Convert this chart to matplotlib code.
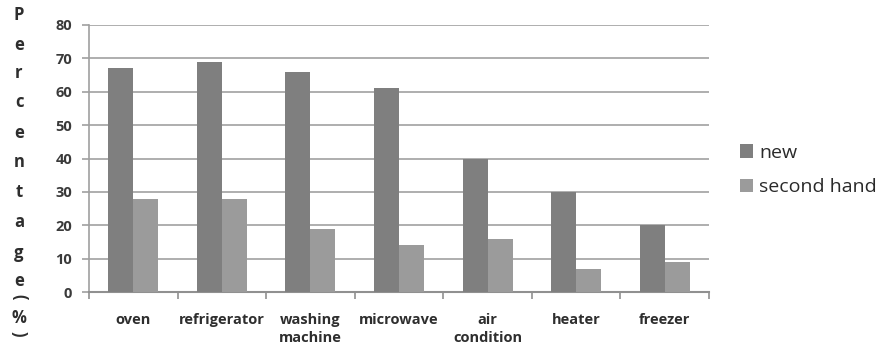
import matplotlib
matplotlib.use("Agg")
import matplotlib.pyplot as plt
import numpy as np

categories = ["oven", "refrigerator", "washing\nmachine", "microwave",
              "air\ncondition", "heater", "freezer"]
new_vals = [67, 69, 66, 61, 40, 30, 20]
second_vals = [28, 28, 19, 14, 16, 7, 9]
series_names = ["new", "second hand"]
y_ticks = [0, 10, 20, 30, 40, 50, 60, 70, 80]
ylabel_chars = list("Percentage") + ["(", "%", ")"]

plt.rcParams["font.family"] = ["Open Sans", "DejaVu Sans"]

W, H = 879, 351
fig = plt.figure(figsize=(W / 100, H / 100), dpi=100)
ax = fig.add_axes([89 / W, (H - 292) / H, 620 / W, 267 / H])

x = np.arange(len(categories))
bw = 0.282
c_new, c_sec = "#7f7f7f", "#9b9b9b"
ax.bar(x - bw / 2, new_vals, bw, color=c_new, label=series_names[0], zorder=3)
ax.bar(x + bw / 2, second_vals, bw, color=c_sec, label=series_names[1], zorder=3)

ax.set_xlim(-0.5, len(categories) - 0.5)
ax.set_ylim(0, 80)
ax.set_yticks(y_ticks)
ax.yaxis.grid(True, color="#a8a8a8", linewidth=1.3, zorder=0)
ax.set_axisbelow(True)

for s in ["top", "right"]:
    ax.spines[s].set_visible(False)
ax.spines["left"].set_color("#a0a0a0")
ax.spines["bottom"].set_color("#909090")
ax.spines["left"].set_linewidth(1.2)
ax.spines["bottom"].set_linewidth(1.5)

ax.tick_params(axis="y", length=5, width=1.2, color="#a0a0a0",
               labelsize=10.5, labelcolor="#3a3a3a", pad=7)
for lab in ax.get_yticklabels():
    lab.set_fontweight("bold")

# category boundaries carry the x tick marks; labels sit at category centres
ax.set_xticks(np.arange(-0.5, len(categories), 1.0))
ax.set_xticklabels([])
ax.tick_params(axis="x", length=5, width=1.2, color="#909090")
ax.set_xticks(x, minor=True)
ax.set_xticklabels(categories, minor=True, fontsize=10.5, fontweight="bold",
                   color="#2e2e2e", linespacing=1.4, va="top")
ax.tick_params(axis="x", which="minor", length=0, pad=15)

# stacked vertical axis title
y_pos = [15, 45, 73, 102, 133, 162, 192, 222, 253, 281, 297, 318, 334]
for ch, yp in zip(ylabel_chars, y_pos):
    rot = -90 if ch in "()" else 0
    fig.text(19 / W, 1 - yp / H, ch, ha="center", va="center", fontsize=12,
             fontweight="bold", color="#2e2e2e", rotation=rot)

leg = ax.legend(loc="center left", frameon=False, fontsize=14,
                handlelength=0.7, handleheight=0.7,
                handletextpad=0.3, labelspacing=0.85, borderaxespad=0,
                bbox_to_anchor=((732 - 89) / 620, (292 - 170) / 267))
for t in leg.get_texts():
    t.set_color("#2a2a2a")

fig.savefig("out.png", dpi=100)
